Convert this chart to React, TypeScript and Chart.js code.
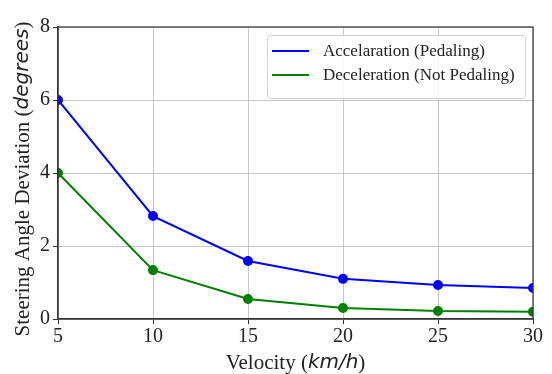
import React, { useEffect, useRef } from "react";
import { Chart, registerables } from "chart.js";

Chart.register(...registerables);

const velocities = [5, 10, 15, 20, 25, 30];
const accelValues = [6.0, 2.82, 1.59, 1.1, 0.93, 0.85];
const decelValues = [4.0, 1.34, 0.55, 0.3, 0.22, 0.2];
const seriesLabels = ["Accelaration (Pedaling)", "Deceleration (Not Pedaling)"];
const xTitleParts = [
  { t: "Velocity (", italic: false },
  { t: "km/h", italic: true },
  { t: ")", italic: false },
];
const yTitleParts = [
  { t: "Steering Angle Deviation (", italic: false },
  { t: "degrees", italic: true },
  { t: ")", italic: false },
];

const SERIF = "21px 'Liberation Serif', 'Times New Roman', serif";
const ITAL = "italic 20px 'DejaVu Sans', sans-serif";

function drawParts(ctx: CanvasRenderingContext2D, parts: { t: string; italic: boolean }[], cx: number, cy: number) {
  let total = 0;
  const widths = parts.map((p) => {
    ctx.font = p.italic ? ITAL : SERIF;
    const w = ctx.measureText(p.t).width;
    total += w;
    return w;
  });
  let x = cx - total / 2;
  ctx.textBaseline = "middle";
  ctx.textAlign = "left";
  parts.forEach((p, i) => {
    ctx.font = p.italic ? ITAL : SERIF;
    ctx.fillText(p.t, x, cy);
    x += widths[i];
  });
}

const decorPlugin = {
  id: "decor",
  afterDraw(chart: any) {
    const { ctx, chartArea } = chart;
    const { left, right, top, bottom } = chartArea;
    ctx.save();
    ctx.strokeStyle = "#333";
    ctx.lineWidth = 1.2;
    ctx.strokeRect(left, top, right - left, bottom - top);
    ctx.fillStyle = "#222";
    drawParts(ctx, xTitleParts, (left + right) / 2, 363);
    ctx.save();
    ctx.translate(23, (top + bottom) / 2 + 6);
    ctx.rotate(-Math.PI / 2);
    drawParts(ctx, yTitleParts, 0, 0);
    ctx.restore();
    const bx = 267, by = 35, bw = 258, bh = 63;
    ctx.fillStyle = "rgba(255,255,255,0.85)";
    ctx.strokeStyle = "#d0d0d0";
    ctx.lineWidth = 1;
    ctx.beginPath();
    (ctx as any).roundRect(bx + 0.5, by + 0.5, bw, bh, 3);
    ctx.fill();
    ctx.stroke();
    const colors = ["#0000ff", "#008000"];
    const ys = [51, 75];
    seriesLabels.forEach((lab, i) => {
      ctx.strokeStyle = colors[i];
      ctx.lineWidth = 2;
      ctx.beginPath();
      ctx.moveTo(272, ys[i]);
      ctx.lineTo(309, ys[i]);
      ctx.stroke();
      ctx.fillStyle = "#222";
      ctx.font = "17px 'Liberation Serif', 'Times New Roman', serif";
      ctx.textAlign = "left";
      ctx.textBaseline = "middle";
      ctx.fillText(lab, 323, ys[i] + 1);
    });
    ctx.restore();
  },
};

export default function App() {
  const ref = useRef<HTMLCanvasElement>(null);
  useEffect(() => {
    document.body.style.margin = "0";
    const chart = new Chart(ref.current!, {
      type: "line",
      data: {
        datasets: [
          {
            label: seriesLabels[0],
            data: velocities.map((v, i) => ({ x: v, y: accelValues[i] })),
            borderColor: "#0000ff",
            backgroundColor: "#0000ff",
            borderWidth: 2,
            pointRadius: 4,
          },
          {
            label: seriesLabels[1],
            data: velocities.map((v, i) => ({ x: v, y: decelValues[i] })),
            borderColor: "#008000",
            backgroundColor: "#008000",
            borderWidth: 2,
            pointRadius: 4,
          },
        ],
      },
      options: {
        animation: false,
        responsive: false,
        layout: { padding: { top: 27, right: 19, left: 0, bottom: 0 } },
        plugins: { legend: { display: false }, tooltip: { enabled: false } },
        scales: {
          x: {
            type: "linear",
            min: 5,
            max: 30,
            ticks: {
              stepSize: 5,
              color: "#222",
              font: { family: "'Liberation Serif', serif", size: 20 },
              padding: 1,
            },
            grid: { color: "#c8c8c8", tickColor: "#333", tickLength: 5 },
            border: { color: "#333", width: 1.2 },
            afterFit: (s: any) => {
              s.height = 55;
            },
          },
          y: {
            min: 0,
            max: 8,
            ticks: {
              stepSize: 2,
              color: "#222",
              font: { family: "'Liberation Serif', serif", size: 20 },
              padding: 3,
            },
            grid: { color: "#c8c8c8", tickColor: "#333", tickLength: 5 },
            border: { color: "#333", width: 1.2 },
            afterFit: (s: any) => {
              s.width = 58;
            },
          },
        },
      },
      plugins: [decorPlugin],
    } as any);
    return () => chart.destroy();
  }, []);
  return <canvas ref={ref} width={552} height={374} style={{ display: "block" }} />;
}
